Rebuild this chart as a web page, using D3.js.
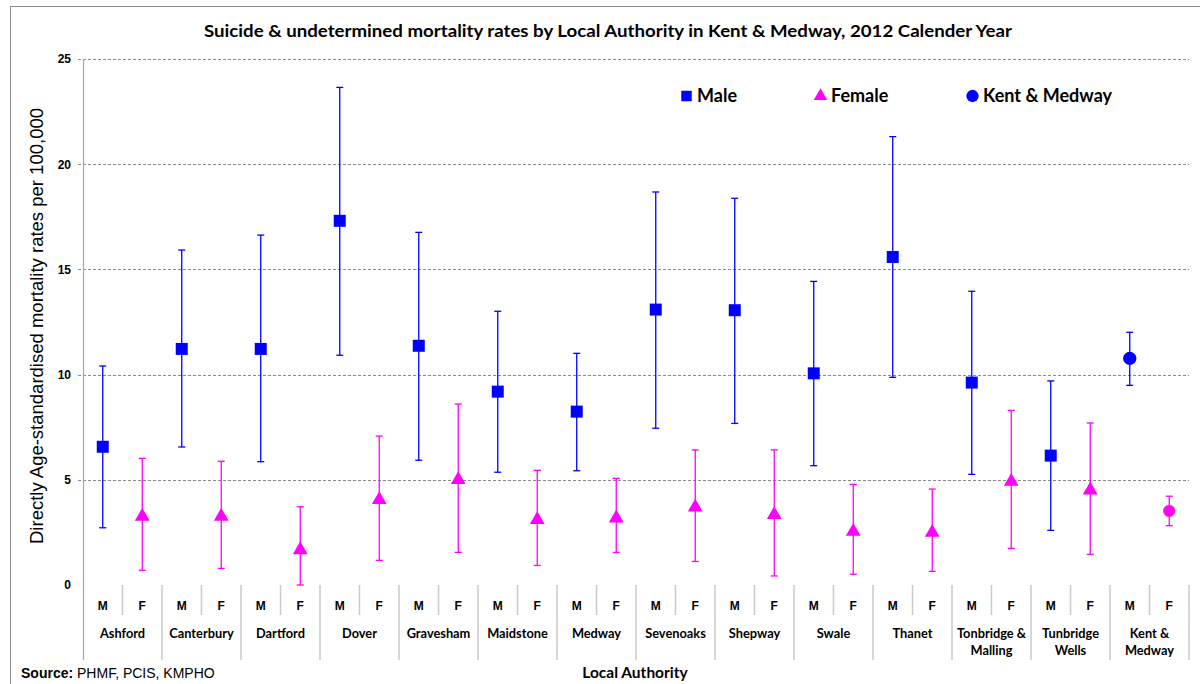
<!DOCTYPE html>
<html>
<head>
<meta charset="utf-8">
<script src="https://cdn.jsdelivr.net/npm/d3@7"></script>
<style>
  html, body { margin: 0; padding: 0; background: #fff; }
  svg { display: block; }
</style>
</head>
<body>
<svg id="chart" width="1200" height="684"></svg>
<script>
// Local authorities (x-axis groups)
const categories = ["Ashford", "Canterbury", "Dartford", "Dover", "Gravesham", "Maidstone", "Medway",
  "Sevenoaks", "Shepway", "Swale", "Thanet", "Tonbridge & Malling", "Tunbridge Wells", "Kent & Medway"];
const categoryLines = [["Ashford"], ["Canterbury"], ["Dartford"], ["Dover"], ["Gravesham"], ["Maidstone"], ["Medway"],
  ["Sevenoaks"], ["Shepway"], ["Swale"], ["Thanet"], ["Tonbridge &", "Malling"], ["Tunbridge", "Wells"], ["Kent &", "Medway"]];
const sexes = ["M", "F"];

// Directly age-standardised rates per 100,000 with 95% confidence limits
const maleRate  = [6.57, 11.22, 11.22, 17.31, 11.37, 9.19, 8.24, 13.09, 13.06, 10.06, 15.59, 9.62, 6.15, 10.77];
const maleLower = [2.72, 6.56, 5.86, 10.92, 5.93, 5.36, 5.43, 7.45, 7.68, 5.67, 9.87, 5.26, 2.60, 9.49];
const maleUpper = [10.41, 15.92, 16.63, 23.65, 16.76, 13.01, 11.01, 18.68, 18.38, 14.43, 21.31, 13.96, 9.70, 12.01];
const femaleRate  = [3.33, 3.33, 1.74, 4.12, 5.07, 3.17, 3.25, 3.77, 3.41, 2.61, 2.57, 4.99, 4.58, 3.52];
const femaleLower = [0.70, 0.79, 0.00, 1.17, 1.55, 0.93, 1.55, 1.12, 0.43, 0.51, 0.65, 1.74, 1.46, 2.82];
const femaleUpper = [6.02, 5.88, 3.72, 7.08, 8.60, 5.45, 5.07, 6.42, 6.42, 4.78, 4.56, 8.30, 7.70, 4.22];

const yTicks = [0, 5, 10, 15, 20, 25];
const legendItems = ["Male", "Female", "Kent & Medway"];

const BLUE = "#0000ff";
const MAGENTA = "#ff00ff";
const ARIAL = "'Liberation Sans', Arial, sans-serif";
const CALIBRI = "Lato, 'Open Sans', sans-serif";

const svg = d3.select("#chart");

// Outer chart frame
svg.append("rect")
  .attr("x", 10.5).attr("y", 6.5).attr("width", 1230).attr("height", 720)
  .attr("fill", "#fff").attr("stroke", "#8c8c8c").attr("stroke-width", 1);

const plotLeft = 83, plotRight = 1189, plotTop = 59, plotBottom = 585;

const x = d3.scaleBand().domain(categories).range([plotLeft, plotRight]).padding(0);
const xs = d3.scaleBand().domain(sexes).range([0, x.bandwidth()]).padding(0);
const y = d3.scaleLinear().domain([0, 25]).range([plotBottom, plotTop]);

// Title
svg.append("text")
  .attr("x", 608).attr("y", 37)
  .attr("text-anchor", "middle")
  .attr("font-family", CALIBRI).attr("font-weight", "bold").attr("font-size", 17)
  .attr("textLength", 808).attr("lengthAdjust", "spacingAndGlyphs")
  .attr("fill", "#000")
  .text("Suicide & undetermined mortality rates by Local Authority in Kent & Medway, 2012 Calender Year");

// Horizontal dashed gridlines
svg.append("g")
  .selectAll("line")
  .data(yTicks.filter(d => d > 0))
  .join("line")
  .attr("x1", plotLeft - 5).attr("x2", plotRight)
  .attr("y1", d => Math.round(y(d)) + 0.5).attr("y2", d => Math.round(y(d)) + 0.5)
  .attr("stroke", "#8a8a8a").attr("stroke-width", 1)
  .attr("stroke-dasharray", "3,2");

// Y axis with bold tick labels
const yAxis = d3.axisLeft(y).tickValues(yTicks).tickSize(0).tickPadding(12);
const yg = svg.append("g").attr("transform", `translate(${plotLeft},0)`).call(yAxis);
yg.select(".domain").remove();
yg.selectAll("text")
  .attr("font-family", ARIAL).attr("font-weight", "bold").attr("font-size", 12)
  .attr("fill", "#000");

// Vertical axis line, continuing down through the category labels
svg.append("line")
  .attr("x1", plotLeft + 0.5).attr("x2", plotLeft + 0.5)
  .attr("y1", plotTop).attr("y2", 660)
  .attr("stroke", "#a6a6a6").attr("stroke-width", 1.2);

// Y axis title
svg.append("text")
  .attr("transform", `translate(43,${326}) rotate(-90)`)
  .attr("text-anchor", "middle")
  .attr("font-family", ARIAL).attr("font-size", 18.5)
  .attr("fill", "#000")
  .text("Directly Age-standardised mortality rates per 100,000");

// Category axis: M/F separators and group separators
const catAxis = svg.append("g");
categories.forEach((c, i) => {
  const gx = x(c);
  // separator between M and F
  catAxis.append("line")
    .attr("x1", gx + xs("F")).attr("x2", gx + xs("F"))
    .attr("y1", plotBottom).attr("y2", 615)
    .attr("stroke", "#c8c8c8").attr("stroke-width", 1.5);
  // separator at right edge of group
  catAxis.append("line")
    .attr("x1", gx + x.bandwidth()).attr("x2", gx + x.bandwidth())
    .attr("y1", plotBottom).attr("y2", 660)
    .attr("stroke", "#c8c8c8").attr("stroke-width", 1.5);
  sexes.forEach(s => {
    catAxis.append("text")
      .attr("x", gx + xs(s) + xs.bandwidth() / 2).attr("y", 610)
      .attr("text-anchor", "middle")
      .attr("font-family", ARIAL).attr("font-weight", "bold").attr("font-size", 12)
      .attr("fill", "#000")
      .text(s);
  });
  categoryLines[i].forEach((ln, k) => {
    catAxis.append("text")
      .attr("x", gx + x.bandwidth() / 2).attr("y", 638 + k * 17)
      .attr("text-anchor", "middle")
      .attr("font-family", CALIBRI).attr("font-weight", "bold").attr("font-size", 12.8)
      .attr("fill", "#000")
      .text(ln);
  });
});

// X axis title
svg.append("text")
  .attr("x", 635).attr("y", 678)
  .attr("text-anchor", "middle")
  .attr("font-family", CALIBRI).attr("font-weight", "bold").attr("font-size", 15.5)
  .attr("fill", "#000")
  .text("Local Authority");

// Source note
const src = svg.append("text")
  .attr("x", 21).attr("y", 678)
  .attr("font-family", ARIAL).attr("font-size", 14).attr("fill", "#000");
src.append("tspan").attr("font-weight", "bold").text("Source:");
src.append("tspan").text(" PHMF,  PCIS, KMPHO");

// Build point records
const points = [];
categories.forEach((c, i) => {
  points.push({ cat: c, sex: "M", v: maleRate[i], lo: maleLower[i], hi: maleUpper[i], total: i === categories.length - 1 });
  points.push({ cat: c, sex: "F", v: femaleRate[i], lo: femaleLower[i], hi: femaleUpper[i], total: i === categories.length - 1 });
});
const px = d => x(d.cat) + xs(d.sex) + xs.bandwidth() / 2;
const col = d => d.sex === "M" ? BLUE : MAGENTA;

// Error bars
const eb = svg.append("g");
eb.selectAll("line.bar")
  .data(points).join("line").attr("class", "bar")
  .attr("x1", px).attr("x2", px)
  .attr("y1", d => y(d.lo)).attr("y2", d => y(d.hi))
  .attr("stroke", col).attr("stroke-width", 1.3);
["lo", "hi"].forEach(k => {
  eb.selectAll("line.cap-" + k)
    .data(points).join("line").attr("class", "cap-" + k)
    .attr("x1", d => px(d) - 3.5).attr("x2", d => px(d) + 3.5)
    .attr("y1", d => y(d[k])).attr("y2", d => y(d[k]))
    .attr("stroke", col).attr("stroke-width", 1.3);
});

// Markers
const sq = d3.symbol().type(d3.symbolSquare).size(144);
const tri = d3.symbol().type(d3.symbolTriangle).size(95);
svg.append("g")
  .selectAll("path")
  .data(points).join("path")
  .attr("transform", d => `translate(${px(d)},${y(d.v) + (d.sex === "F" && !d.total ? 1.5 : 0)})`)
  .attr("d", d => d.total
      ? d3.symbol().type(d3.symbolCircle).size(d.sex === "M" ? 140 : 105)()
      : (d.sex === "M" ? sq() : tri()))
  .attr("fill", col)
  .attr("stroke", d => d.total && d.sex === "F" ? "#ff3366" : "none")
  .attr("stroke-width", 0.8);

// Legend
const legend = svg.append("g");
const legendX = [681, 815, 967];
const legendSym = [d3.symbolSquare, d3.symbolTriangle, d3.symbolCircle];
const legendSize = [110, 80, 120];
const legendCol = [BLUE, MAGENTA, BLUE];
legendItems.forEach((t, i) => {
  legend.append("path")
    .attr("transform", `translate(${legendX[i] + 5.5},${96})`)
    .attr("d", d3.symbol().type(legendSym[i]).size(legendSize[i])())
    .attr("fill", legendCol[i]);
  legend.append("text")
    .attr("x", legendX[i] + 16).attr("y", 102)
    .attr("font-family", CALIBRI).attr("font-weight", "bold").attr("font-size", 18)
    .attr("fill", "#000")
    .text(t);
});
</script>
</body>
</html>
